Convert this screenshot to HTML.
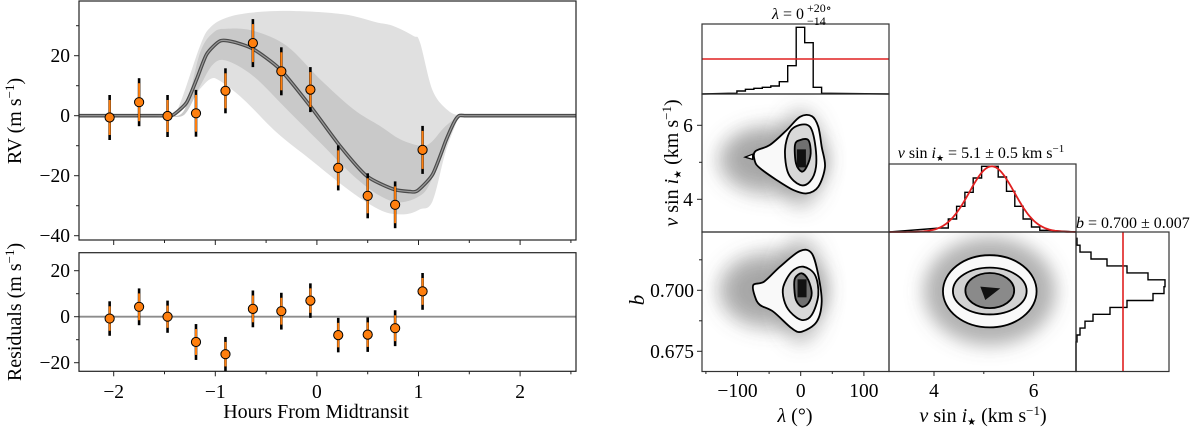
<!DOCTYPE html>
<html><head><meta charset="utf-8"><style>
html,body{margin:0;padding:0;background:#fff}
svg{display:block}
text{font-family:"Liberation Serif","DejaVu Serif",serif;fill:#000}
</style></head><body>
<svg id="fig" width="1200" height="427" viewBox="0 0 1200 427" xmlns="http://www.w3.org/2000/svg">
<defs>
<filter id="blur" x="-50%" y="-50%" width="200%" height="200%"><feGaussianBlur stdDeviation="9"/></filter>
<clipPath id="cpTop"><rect x="79" y="1" width="497" height="239"/></clipPath>
<clipPath id="cpLB"><rect x="702" y="94" width="187" height="138"/></clipPath>
<clipPath id="cpLb"><rect x="702" y="232" width="187" height="139.5"/></clipPath>
<clipPath id="cpVb"><rect x="889" y="232" width="187" height="139.5"/></clipPath>
</defs>
<g id="left"></g>
<g id="corner"></g>
</svg>
<script>
// ---------------- RV data ----------------
const obsHours = [-2.04,-1.75,-1.47,-1.19,-0.90,-0.63,-0.35,-0.064,0.21,0.50,0.77,1.04];
const rvValues = [-0.6,4.5,-0.1,0.8,8.3,24.2,14.8,8.7,-17.4,-26.7,-29.7,-11.4];
const rvErrors = [7.5,8,7,7.8,7.5,8,8,7.5,7.5,7.5,7.8,8];
const residValues = [-0.8,4.3,0,-11,-16.3,3.4,2.4,7,-8,-7.8,-5,11];
const modelHours = [-2.4,-1.6,-1.48,-1.413,-1.282,-1.183,-1.085,-0.954,-0.823,-0.626,-0.363,-0.068,0.227,0.49,0.752,0.916,0.99,1.14,1.27,1.35,1.40,1.46,1.55,2.6];
const modelRV = [0,0,0,0.3,4.4,12.2,20.5,24.9,24.6,22.2,15.5,3.3,-10.1,-20.1,-24.5,-25.3,-25,-19.5,-8.3,-2.2,0,0,0,0];
const lightUpH = [-1.47,-1.36,-1.15,-1.05,-0.888,-0.626,-0.232,0.26,0.588,0.752,0.949,1.015,1.138,1.288,1.40];
const lightUpV = [0,3,23.3,29.4,32.7,34.4,34.9,33.8,31.1,29.9,26.6,24.4,8.5,1.8,0];
const lightLoH = [-1.47,-1.36,-1.183,-1.05,-0.954,-0.724,-0.396,-0.068,0.26,0.49,0.687,0.883,1.015,1.138,1.27,1.40];
const lightLoV = [0,1,7.7,12.2,11.6,5.5,-5.6,-14.5,-23.4,-28.9,-32.3,-32.8,-31.2,-28.5,-11.7,0];
const darkUpH = [-1.46,-1.3,-1.15,-1.02,-0.888,-0.626,-0.298,0.03,0.358,0.62,0.817,1.015,1.12,1.25,1.39];
const darkUpV = [0,2.2,21,27.7,29,28.3,23.3,12.2,2.2,-3.4,-7.8,-10,-9,-4,0];
const darkLoH = [-1.46,-1.3,-1.15,-1.02,-0.888,-0.626,-0.298,0.03,0.358,0.62,0.817,1.015,1.12,1.25,1.39];
const darkLoV = [0,0.5,9.9,17.2,18.3,13.2,2.2,-8.9,-20,-26.7,-28.9,-26.7,-22,-10,0];
const hourTicks = [-2,-1,0,1,2];
const rvTicks = [20,0,-20,-40];
const residTicks = [20,0,-20];

// ---------------- corner data ----------------
const lamBinStart = -114.3, lamBinWidth = 13.4;
const lamCounts = [2,9,14,17,20,24,37,85,200,154,20,2];
const lamPriorLevel = 105;
const vBinStart = 4.12, vBinWidth = 0.167;
const vCounts = [4,13,25.7,39.7,54,65.7,65.7,55,40.7,25.7,13,5,1.7];
const vFitMean = 5.16, vFitSigma = 0.45, vFitPeak = 65.7;
const bBinStart = 0.7213, bBinWidth = 0.00283;
const bCounts = [1,4,15,31,51,72,89,88,77,51,34,17,9,4,1];
const bPriorLevel = 47;
const lamTicks = [-100,0,100];
const vTicks = [4,6];
const bTicks = [0.700,0.675];
const cLV1L = [-72.3,-48.6,-22.2,-1.1,17.4,27.8,33.2,38.4,27.8,9.5,-11.6,-38,-64.4,-72.3];
const cLV1V = [5.29,5.47,5.87,6.23,6.25,5.96,5.42,4.88,4.34,4.16,4.25,4.52,4.84,5.02];
const cLV2L = [-24.8,-16.9,-1.1,14.7,22.6,24.2,14.7,-1.1,-19.6];
const cLV2V = [5.33,5.83,6.01,5.96,5.51,4.88,4.48,4.39,4.70];
const cLV3L = [-9,-1.1,12,15.8,9.5,1.6,-7.4];
const cLV3V = [5.47,5.60,5.60,5.24,4.88,4.75,4.97];
const cLB1L = [-75,-58,-32.8,-1.1,17.4,27.8,33.2,25.3,1.6,-14.2,-43.3,-64.4,-72.3];
const cLB1B = [0.70217,0.70354,0.70967,0.71611,0.71516,0.70627,0.69533,0.68713,0.68303,0.68443,0.69123,0.69398,0.69738];
const cLB2L = [-27.5,-14.2,4.1,22.6,27.8,17.4,1.6,-16.9,-26.4];
const cLB2B = [0.70148,0.70762,0.70967,0.70627,0.69807,0.68988,0.68783,0.69123,0.69602];
const cLB3L = [-9,1.6,12,17.4,12,1.6,-7.4,-10.1];
const cLB3B = [0.70492,0.70697,0.70421,0.69877,0.69467,0.69328,0.69602,0.70082];
const eVBcenterV = [5.12,5.12,5.12];
const eVBcenterB = [0.6996,0.6997,0.6999];
const eVBradV = [0.94,0.74,0.49];
const eVBradB = [0.0148,0.0096,0.0072];

const NS='http://www.w3.org/2000/svg';
function el(tag, attrs, parent){const e=document.createElementNS(NS,tag);for(const k in attrs)e.setAttribute(k,attrs[k]);parent.appendChild(e);return e;}
function txt(parent,x,y,s,size,anchor){const t=el('text',{x:x,y:y,'font-size':size,'text-anchor':anchor||'middle'},parent);t.textContent=s;return t;}
function smooth(pts,closed,k){
  k=k||6;
  const n=pts.length;let d='M'+pts[0][0].toFixed(1)+','+pts[0][1].toFixed(1);
  const get=i=>closed?pts[(i+n)%n]:pts[Math.max(0,Math.min(n-1,i))];
  const m=closed?n:n-1;
  for(let i=0;i<m;i++){const p0=get(i-1),p1=get(i),p2=get(i+1),p3=get(i+2);
    const c1=[p1[0]+(p2[0]-p0[0])/k,p1[1]+(p2[1]-p0[1])/k],c2=[p2[0]-(p3[0]-p1[0])/k,p2[1]-(p3[1]-p1[1])/k];
    d+='C'+c1[0].toFixed(1)+','+c1[1].toFixed(1)+' '+c2[0].toFixed(1)+','+c2[1].toFixed(1)+' '+p2[0].toFixed(1)+','+p2[1].toFixed(1);}
  return d+(closed?'Z':'');
}

const xH=h=>316.9+101.6*h;
const yRV=v=>115.7-3.0*v;
const yRes=r=>316.7-2.3*r;
const L=document.getElementById('left');

const topG=el('g',{'clip-path':'url(#cpTop)'},L);


function band(hU,vU,hL,vL,fill,name){
  const up=hU.map((h,i)=>[xH(h),yRV(vU[i])]);
  const lo=hL.map((h,i)=>[xH(h),yRV(vL[i])]).reverse();
  const d=smooth(up,false)+' L'+smooth(lo,false).slice(1)+'Z';
  const p=el('path',{d:d,fill:fill,stroke:'none'},topG);
  
  
}
band(lightUpH,lightUpV,lightLoH,lightLoV,'#e0e0e0','model-band-outer');
band(darkUpH,darkUpV,darkLoH,darkLoV,'#c9c9c9','model-band-inner');
const mPts=modelHours.map((h,i)=>[xH(h),yRV(modelRV[i])]);
const mD=smooth(mPts,false,9);
const m1=el('path',{d:mD,fill:'none',stroke:'#4a4a4a','stroke-width':3.6},topG);


el('path',{d:mD,fill:'none',stroke:'#9a9a9a','stroke-width':1.2},topG);

function points(g,vals,ys,name){
  obsHours.forEach((h,i)=>{
    const x=xH(h),e=rvErrors[i];
    const s=(name==='rv-point')?3.0:2.3;
    const c=ys(vals[i]);
    const b=el('line',{x1:x,x2:x,y1:c-e*s,y2:c+e*s,stroke:'#000','stroke-width':2.6},g);
    
    
    el('line',{x1:x,x2:x,y1:c-e*s+5,y2:c+e*s-5,stroke:'#ff7f0e','stroke-width':2},g);
    const ci=el('circle',{cx:x,cy:c,r:4.6,fill:'#ff7f0e',stroke:'#000','stroke-width':1},g);
    
    
  });
}
points(topG,rvValues,yRV,'rv-point');
el('rect',{x:79,y:1,width:497,height:239,fill:'none',stroke:'#222','stroke-width':1.2},L);

const botG=el('g',{},L);


el('line',{x1:79,x2:576,y1:yRes(0),y2:yRes(0),stroke:'#8c8c8c','stroke-width':1.8},botG);
points(botG,residValues,yRes,'residual-point');
el('rect',{x:79,y:252.7,width:497,height:118.6,fill:'none',stroke:'#222','stroke-width':1.2},L);

rvTicks.forEach(v=>{el('line',{x1:74,x2:79,y1:yRV(v),y2:yRV(v),stroke:'#222','stroke-width':1},L);
  const t=txt(L,70,yRV(v)+6.5,String(v).replace('-','\u2212'),19.5,'end');
  
  });
[30,10,-10,-30].forEach(v=>el('line',{x1:76,x2:79,y1:yRV(v),y2:yRV(v),stroke:'#222','stroke-width':1},L));
residTicks.forEach(v=>{el('line',{x1:74,x2:79,y1:yRes(v),y2:yRes(v),stroke:'#222','stroke-width':1},L);
  const t=txt(L,70,yRes(v)+6.5,String(v).replace('-','\u2212'),19.5,'end');
  
  });
[10,-10].forEach(v=>el('line',{x1:76,x2:79,y1:yRes(v),y2:yRes(v),stroke:'#222','stroke-width':1},L));
hourTicks.forEach(h=>{
  [240,371.3].forEach(y0=>el('line',{x1:xH(h),x2:xH(h),y1:y0,y2:y0+5,stroke:'#222','stroke-width':1},L));
  const t=txt(L,xH(h),398,String(h).replace('-','\u2212'),19.5,'middle');
  
  });
[-1.5,-0.5,0.5,1.5,2.5].forEach(h=>[240,371.3].forEach(y0=>el('line',{x1:xH(h),x2:xH(h),y1:y0,y2:y0+3,stroke:'#222','stroke-width':1},L)));
let t;
t=txt(L,316,418,'Hours From Midtransit',20,'middle');


t=el('text',{x:0,y:0,'font-size':20,'text-anchor':'middle',transform:'translate(21,121) rotate(-90)'},L);
t.innerHTML='RV (m s<tspan dy="-7" font-size="13">\u22121</tspan><tspan dy="7">)</tspan>';


t=el('text',{x:0,y:0,'font-size':20,'text-anchor':'middle',transform:'translate(21,312) rotate(-90)'},L);
t.innerHTML='Residuals (m s<tspan dy="-7" font-size="13">\u22121</tspan><tspan dy="7">)</tspan>';



// ---------- corner ----------
const C=document.getElementById('corner');
const xL=l=>800.7+0.632*l;
const yV=v=>199.3-37*(v-4);
const xV=v=>934+49.8*(v-4);
const yB=b=>290.3-2440*(b-0.7);
const P={lamH:[702,24,187,70],lv:[702,94,187,138],lb:[702,232,187,139.5],vH:[889,164,187,68],vb:[889,232,187,139.5],bH:[1076,232,93,139.5]};

let g=el('g',{},C);


let d='M'+P.lamH[0]+',94';
lamCounts.forEach((c,i)=>{const x0=xL(lamBinStart+i*lamBinWidth),x1=xL(lamBinStart+(i+1)*lamBinWidth),y=94-c/3;d+=' L'+x0.toFixed(1)+','+y.toFixed(1)+' L'+x1.toFixed(1)+','+y.toFixed(1);});
d+=' L889,94';
el('path',{d:d,fill:'none',stroke:'#000','stroke-width':1.4},g);
let rl=el('line',{x1:702,x2:889,y1:94-lamPriorLevel/3,y2:94-lamPriorLevel/3,stroke:'#e02020','stroke-width':1.6},g);



g=el('g',{},C);


d='M889,232';
vCounts.forEach((c,i)=>{const x0=xV(vBinStart+i*vBinWidth),x1=xV(vBinStart+(i+1)*vBinWidth),y=232-c;d+=' L'+x0.toFixed(1)+','+y.toFixed(1)+' L'+x1.toFixed(1)+','+y.toFixed(1);});
d+=' L1076,232';
el('path',{d:d,fill:'none',stroke:'#000','stroke-width':1.4},g);
let gp=[];for(let v=3.1;v<=6.86;v+=0.03){gp.push((gp.length?'L':'M')+xV(v).toFixed(1)+','+(232-vFitPeak*Math.exp(-0.5*Math.pow((v-vFitMean)/vFitSigma,2))).toFixed(1));}
rl=el('path',{d:gp.join(' '),fill:'none',stroke:'#e02020','stroke-width':1.8},g);



g=el('g',{},C);


d='M1076,'+yB(bBinStart).toFixed(1);
bCounts.forEach((c,i)=>{const y0=yB(bBinStart-i*bBinWidth),y1=yB(bBinStart-(i+1)*bBinWidth),x=1076+c;d+=' L'+x.toFixed(1)+','+y0.toFixed(1)+' L'+x.toFixed(1)+','+y1.toFixed(1);});
d+=' L1076,'+yB(bBinStart-bCounts.length*bBinWidth).toFixed(1)+' L1076,371';
el('path',{d:d,fill:'none',stroke:'#000','stroke-width':1.4},g);
rl=el('line',{x1:1076+bPriorLevel,x2:1076+bPriorLevel,y1:232,y2:371.5,stroke:'#e02020','stroke-width':1.6},g);



function cloud(clip,name,blobs){
  const cg=el('g',{'clip-path':clip},C);
  
  
  blobs.forEach(b=>el('ellipse',{cx:b[0],cy:b[1],rx:b[2],ry:b[3],fill:'#666','fill-opacity':b[4],filter:'url(#blur)'},cg));
  return cg;
}
cloud('url(#cpLB)','lambda-vsini-scatter',[[xL(-45),yV(5.05),55,36,0.4],[xL(0),yV(5.1),26,50,0.35],[xL(-65),yV(5.1),30,24,0.3]]);
cloud('url(#cpLb)','lambda-b-scatter',[[xL(-45),yB(0.7),55,40,0.4],[xL(0),yB(0.7),26,54,0.35],[xL(-65),yB(0.7),30,26,0.3]]);
cloud('url(#cpVb)','vsini-b-scatter',[[xV(5.12),yB(0.6996),66,54,0.5]]);

function contourSet(parent,Ls,Ys,xf,yf,fills,name){
  Ls.forEach((arr,k)=>{
    const pts=arr.map((l,i)=>[xf(l),yf(Ys[k][i])]);
    const p=el('path',{d:smooth(pts,true),fill:fills[k],stroke:'#000','stroke-width':1.8},parent);
    
    
  });
}
g=el('g',{'clip-path':'url(#cpLB)'},C);
contourSet(g,[cLV1L,cLV2L,cLV3L],[cLV1V,cLV2V,cLV3V],xL,yV,['#f9f9f9','#d8d8d8','#707070'],'lambda-vsini-contour');
el('rect',{x:xL(-6),y:yV(5.35),width:9,height:18,fill:'#111'},g);
el('path',{d:'M'+xL(-88)+','+yV(5.14)+' L'+xL(-76)+','+yV(5.22)+' L'+xL(-76)+','+yV(5.08)+'Z',fill:'#fff',stroke:'#000','stroke-width':1.3},g);
g=el('g',{'clip-path':'url(#cpLb)'},C);
contourSet(g,[cLB1L,cLB2L,cLB3L],[cLB1B,cLB2B,cLB3B],xL,yB,['#f9f9f9','#d8d8d8','#707070'],'lambda-b-contour');
el('rect',{x:xL(-5),y:yB(0.7045),width:9,height:18,fill:'#111'},g);
g=el('g',{'clip-path':'url(#cpVb)'},C);
const eFills=['#f9f9f9','#d2d2d2','#8a8a8a'];
eVBcenterV.forEach((cv,k)=>{
  const e=el('ellipse',{cx:xV(cv),cy:yB(eVBcenterB[k]),rx:eVBradV[k]*49.8,ry:eVBradB[k]*2440,fill:eFills[k],stroke:'#000','stroke-width':1.8},g);
  
  
});
el('path',{d:'M'+xV(4.93)+','+yB(0.7015)+' L'+xV(5.33)+','+yB(0.7008)+' L'+xV(5.03)+','+yB(0.696)+'Z',fill:'#111'},g);

for(const k in P){const r=P[k];el('rect',{x:r[0],y:r[1],width:r[2],height:r[3],fill:'none',stroke:'#333','stroke-width':1.2},C);}

lamTicks.forEach(l=>{el('line',{x1:xL(l),x2:xL(l),y1:371.5,y2:376,stroke:'#222'},C);
  const tt=txt(C,xL(l),397,String(l).replace('-','\u2212'),19.5,'middle');
  
  });
[-150,-50,50].forEach(l=>el('line',{x1:xL(l),x2:xL(l),y1:371.5,y2:374,stroke:'#222'},C));
vTicks.forEach(v=>{el('line',{x1:xV(v),x2:xV(v),y1:371.5,y2:376,stroke:'#222'},C);
  let tt=txt(C,xV(v),397,String(v),19.5,'middle');
  
  
  el('line',{x1:697,x2:702,y1:yV(v),y2:yV(v),stroke:'#222'},C);
  tt=txt(C,688,yV(v)+6.5,String(v),19.5,'middle');
  
  });
el('line',{x1:xV(5),x2:xV(5),y1:371.5,y2:374,stroke:'#222'},C);
el('line',{x1:699,x2:702,y1:yV(5),y2:yV(5),stroke:'#222'},C);
bTicks.forEach(b=>{el('line',{x1:697,x2:702,y1:yB(b),y2:yB(b),stroke:'#222'},C);
  const tt=txt(C,694,yB(b)+6.5,b.toFixed(3),19.5,'end');
  
  });
[0.7125,0.6875].forEach(b=>el('line',{x1:699,x2:702,y1:yB(b),y2:yB(b),stroke:'#222'},C));

t=el('text',{x:772,y:19,'font-size':16,'text-anchor':'start'},C);
t.innerHTML='<tspan font-style="italic">λ</tspan> = 0';


txt(C,807,12,'+20∘',12,'start');
txt(C,807,25,'−14',12,'start');
t=el('text',{x:981,y:158,'font-size':16,'text-anchor':'middle'},C);
t.innerHTML='<tspan font-style="italic">v</tspan> sin <tspan font-style="italic">i</tspan><tspan font-size="9" dy="3">★</tspan><tspan dy="-3"> = 5.1 ± 0.5 km s</tspan><tspan dy="-6" font-size="11">−1</tspan>';


t=el('text',{x:1076,y:228,'font-size':16,'text-anchor':'start'},C);
t.innerHTML='<tspan font-style="italic">b</tspan> = 0.700 ± 0.007';


t=el('text',{x:795,y:422,'font-size':20,'text-anchor':'middle'},C);
t.innerHTML='<tspan font-style="italic">λ</tspan> (°)';


t=el('text',{x:983,y:422,'font-size':20,'text-anchor':'middle'},C);
t.innerHTML='<tspan font-style="italic">v</tspan> sin <tspan font-style="italic">i</tspan><tspan font-size="10" dy="3">★</tspan><tspan dy="-3"> (km s</tspan><tspan dy="-7" font-size="13">−1</tspan><tspan dy="7">)</tspan>';


t=el('text',{x:0,y:0,'font-size':20,'text-anchor':'middle',transform:'translate(678,163) rotate(-90)'},C);
t.innerHTML='<tspan font-style="italic">v</tspan> sin <tspan font-style="italic">i</tspan><tspan font-size="10" dy="3">★</tspan><tspan dy="-3"> (km s</tspan><tspan dy="-7" font-size="13">−1</tspan><tspan dy="7">)</tspan>';


t=el('text',{x:0,y:0,'font-size':21,'text-anchor':'middle','font-style':'italic',transform:'translate(644,300) rotate(-90)'},C);
t.textContent='b';


</script>
</body></html>
